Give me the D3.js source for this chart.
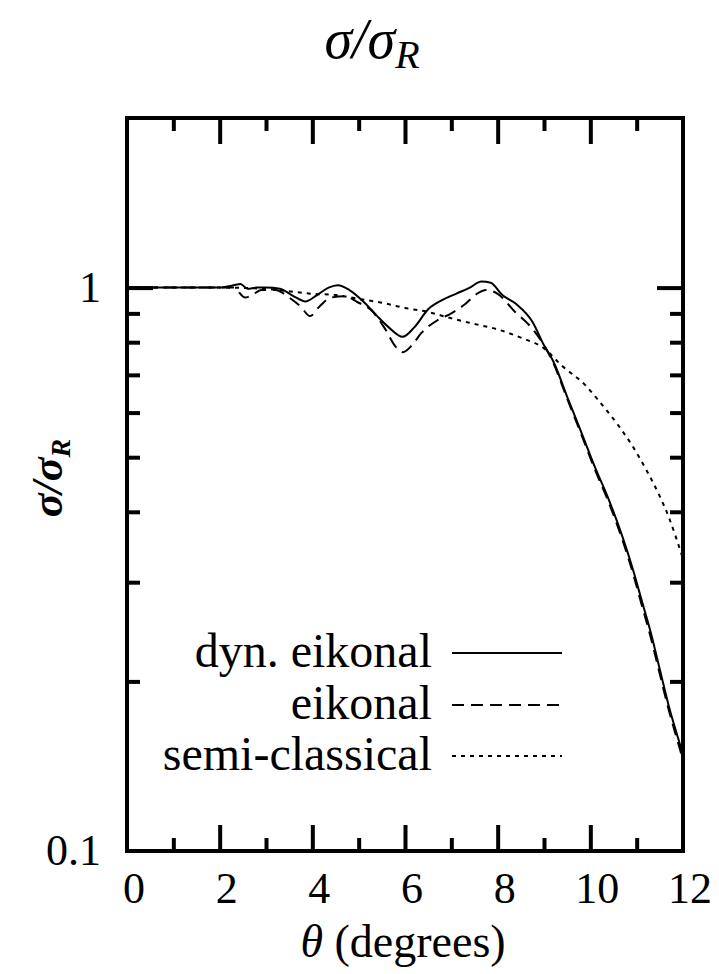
<!DOCTYPE html>
<html><head><meta charset="utf-8">
<script src="https://cdn.jsdelivr.net/npm/d3@7/dist/d3.min.js"></script>
</head>
<body style="margin:0"><svg id="c" width="719" height="974" font-family="Liberation Serif" style="font-family:'Liberation Serif'"></svg>
<script>
// ---- data ----
const thetaDyn = [0,0.5,1,1.5,2,2.3,2.45,2.6,2.8,3,3.3,3.6,3.85,4.1,4.35,4.55,4.8,5.1,5.4,5.65,5.95,6.2,6.5,6.8,7.1,7.4,7.65,7.85,8.1,8.4,8.75,9,9.2,9.5,9.8,10.1,10.4,10.7,10.95,11.1,11.3,11.5,11.7,11.9,12];
const sigmaDyn = [1,1,1,1,1,1.01,1.015,0.995,1,1,0.995,0.965,0.945,0.97,1,1.01,0.99,0.945,0.89,0.85,0.818,0.85,0.915,0.95,0.975,1,1.025,1.02,0.97,0.935,0.87,0.79,0.74,0.64,0.555,0.48,0.42,0.36,0.31,0.28,0.245,0.21,0.18,0.158,0.148];
const thetaEik = [0,0.5,1,1.5,2,2.3,2.55,2.7,2.9,3.2,3.5,3.75,3.95,4.15,4.4,4.7,5,5.25,5.55,5.8,5.95,6.15,6.35,6.7,7,7.3,7.55,7.75,8,8.35,8.75,9,9.2,9.5,9.8,10.1,10.4,10.7,10.95,11.1,11.3,11.5,11.7,11.9,12];
const sigmaEik = [1,1,1,1,1,1,0.96,0.97,0.99,0.99,0.96,0.925,0.89,0.925,0.96,0.965,0.94,0.915,0.85,0.785,0.768,0.79,0.83,0.875,0.9,0.935,0.975,0.99,0.975,0.91,0.845,0.79,0.735,0.635,0.55,0.475,0.415,0.355,0.305,0.275,0.24,0.206,0.177,0.155,0.145];
const thetaSemi = [0,1,2,3,3.5,4,4.5,5,5.5,6,6.5,7,7.5,8,8.5,9,9.4,9.9,10.2,10.6,10.9,11.2,11.5,11.7,11.85,12];
const sigmaSemi = [1,1,1,0.995,0.985,0.975,0.97,0.955,0.94,0.92,0.905,0.882,0.862,0.843,0.815,0.78,0.725,0.67,0.627,0.57,0.525,0.476,0.426,0.39,0.36,0.33];
const seriesNames = ["dyn. eikonal","eikonal","semi-classical"];
const xMajorTicks = [0,2,4,6,8,10,12];
const xMinorTicks = [1,3,5,7,9,11];
const yMajorTicks = [0.1,1];
const yMinorTicks = [0.2,0.3,0.4,0.5,0.6,0.7,0.8,0.9];
const yTickLabels = ["0.1","1"];

// ---- layout ----
const svg = d3.select("#c");
const L=127,R=683,T=118,B=851;
const x = d3.scaleLinear().domain([0,12]).range([L,R]);
const y = d3.scaleLog().domain([0.1,2]).range([B,T]);
const MAJ=26, MIN=13;
const FONT = "'Liberation Serif'";
function txt(sel,size){
  return sel.style("font-family",FONT).attr("font-size",size).attr("fill","#000");
}
function w(sel){ return sel.node().getComputedTextLength(); }

function tickAxis(axisFn, scale, ticks, len, transform){
  const a = axisFn(scale).tickValues(ticks).tickSizeInner(len).tickSizeOuter(0).tickFormat("");
  const g = svg.append("g").attr("transform",transform).call(a);
  g.attr("font-family","Liberation Serif").style("font-family",FONT);
  g.select(".domain").remove();
  g.selectAll(".tick text").remove();
  g.selectAll(".tick line").attr("stroke","#000").attr("stroke-width",4);
  return g;
}
tickAxis(d3.axisBottom, x, xMajorTicks.slice(1,-1), -MAJ, `translate(0,${B})`);
tickAxis(d3.axisBottom, x, xMinorTicks, -MIN, `translate(0,${B})`);
tickAxis(d3.axisTop, x, xMajorTicks.slice(1,-1), -MAJ, `translate(0,${T})`);
tickAxis(d3.axisTop, x, xMinorTicks, -MIN, `translate(0,${T})`);
tickAxis(d3.axisLeft, y, [1], -MAJ, `translate(${L},0)`);
tickAxis(d3.axisLeft, y, yMinorTicks, -MIN, `translate(${L},0)`);
tickAxis(d3.axisRight, y, [1], -MAJ, `translate(${R},0)`);
tickAxis(d3.axisRight, y, yMinorTicks, -MIN, `translate(${R},0)`);

svg.append("rect").attr("x",L).attr("y",T).attr("width",R-L).attr("height",B-T)
  .attr("fill","none").attr("stroke","#000").attr("stroke-width",4);

// tick labels
xMajorTicks.forEach(d=>{
  const t = txt(svg.append("text").attr("y",B+52),44).text(d);
  t.attr("x", x(d)+7 - w(t)/2);
});
yMajorTicks.forEach((d,i)=>{
  const t = txt(svg.append("text").attr("y",y(d)+14),44).text(yTickLabels[i]);
  t.attr("x", L-26 - w(t));
});

// axis titles
const xt = txt(svg.append("text").attr("y",957),46);
xt.append("tspan").style("font-style","italic").text("θ");
xt.append("tspan").text(" (degrees)");
xt.attr("x", 403 - w(xt)/2);

const yt = txt(svg.append("text"),44).style("font-style","italic").attr("font-weight","bold");
yt.append("tspan").text("σ/σ");
yt.append("tspan").attr("font-size",28).attr("dy",8).text("R");
yt.attr("transform",`translate(62,${478 + w(yt)/2}) rotate(-90)`);

const tt = txt(svg.append("text").attr("y",58),56).style("font-style","italic");
tt.append("tspan").text("σ/σ");
tt.append("tspan").attr("font-size",40).attr("dy",10).text("R");
tt.attr("x", 372 - w(tt)/2);

// curves
const styles = [
  {th:thetaDyn, s:sigmaDyn, dash:null},
  {th:thetaEik, s:sigmaEik, dash:"12,7"},
  {th:thetaSemi, s:sigmaSemi, dash:"4,5"}
];
const line = d3.line().x(d=>x(d[0])).y(d=>y(d[1])).curve(d3.curveMonotoneX);
styles.forEach(st=>{
  const pts = st.th.map((t,i)=>[t,st.s[i]]);
  svg.append("path").attr("d",line(pts)).attr("fill","none").attr("stroke","#000")
    .attr("stroke-width",2).attr("stroke-dasharray",st.dash);
});

// legend
const legY=[653,705,756];
seriesNames.forEach((n,i)=>{
  const t = txt(svg.append("text").attr("y",legY[i]+14),48).text(n);
  t.attr("x",432-w(t));
  svg.append("line").attr("x1",452).attr("x2",562).attr("y1",legY[i]).attr("y2",legY[i])
    .attr("stroke","#000").attr("stroke-width",2).attr("stroke-dasharray",styles[i].dash);
});
</script></body></html>
